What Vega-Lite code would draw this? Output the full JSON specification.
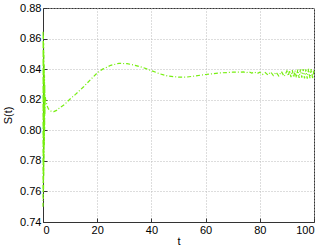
{
  "$schema": "https://vega.github.io/schema/vega-lite/v6.json",
  "autosize": "none",
  "padding": {"left": 43, "top": 8, "right": 13, "bottom": 29},
  "width": 271,
  "height": 214,
  "background": "white",
  "config": {
    "font": "Liberation Sans",
    "view": {"stroke": "#333333", "strokeWidth": 1}
  },
  "data": {"values": [
    {"t": 0, "S": 0.75}, {"t": 0.05, "S": 0.865}, {"t": 0.1, "S": 0.755}, {"t": 0.15, "S": 0.862},
    {"t": 0.2, "S": 0.76}, {"t": 0.25, "S": 0.857}, {"t": 0.3, "S": 0.77}, {"t": 0.35, "S": 0.851},
    {"t": 0.4, "S": 0.78}, {"t": 0.45, "S": 0.843}, {"t": 0.5, "S": 0.79}, {"t": 0.55, "S": 0.836},
    {"t": 0.6, "S": 0.80}, {"t": 0.65, "S": 0.83}, {"t": 0.7, "S": 0.81}, {"t": 0.8, "S": 0.822},
    {"t": 1, "S": 0.82}, {"t": 1.5, "S": 0.816}, {"t": 2, "S": 0.814}, {"t": 3, "S": 0.8125},
    {"t": 4, "S": 0.8122}, {"t": 5, "S": 0.813}, {"t": 6, "S": 0.8145}, {"t": 8, "S": 0.817},
    {"t": 10, "S": 0.8205}, {"t": 12, "S": 0.8235}, {"t": 15, "S": 0.8285}, {"t": 18, "S": 0.834},
    {"t": 20, "S": 0.8375}, {"t": 22, "S": 0.840}, {"t": 25, "S": 0.8425}, {"t": 28, "S": 0.8438},
    {"t": 31, "S": 0.8436}, {"t": 34, "S": 0.8425}, {"t": 37, "S": 0.841}, {"t": 40, "S": 0.839},
    {"t": 43, "S": 0.837}, {"t": 46, "S": 0.8355}, {"t": 50, "S": 0.8348}, {"t": 53, "S": 0.8348},
    {"t": 56, "S": 0.8355}, {"t": 60, "S": 0.8365}, {"t": 65, "S": 0.8375}, {"t": 70, "S": 0.838},
    {"t": 73, "S": 0.838}, {"t": 74, "S": 0.8382}, {"t": 75, "S": 0.8376}, {"t": 76, "S": 0.8383},
    {"t": 77, "S": 0.8374}, {"t": 78, "S": 0.8381}, {"t": 79, "S": 0.8371}, {"t": 80, "S": 0.838},
    {"t": 81, "S": 0.8365}, {"t": 82, "S": 0.8378}, {"t": 83, "S": 0.8362}, {"t": 84, "S": 0.8382},
    {"t": 85, "S": 0.8358}, {"t": 86, "S": 0.838}, {"t": 87, "S": 0.8355}, {"t": 88, "S": 0.8384},
    {"t": 89, "S": 0.8352}, {"t": 90, "S": 0.8388}, {"t": 90.5, "S": 0.8355}, {"t": 91, "S": 0.8392},
    {"t": 91.5, "S": 0.8348}, {"t": 92, "S": 0.8394}, {"t": 92.5, "S": 0.8346}, {"t": 93, "S": 0.8390},
    {"t": 93.5, "S": 0.8344}, {"t": 94, "S": 0.8397}, {"t": 94.5, "S": 0.8342}, {"t": 95, "S": 0.8399},
    {"t": 95.5, "S": 0.8345}, {"t": 96, "S": 0.8401}, {"t": 96.5, "S": 0.8340}, {"t": 97, "S": 0.8398},
    {"t": 97.5, "S": 0.8338}, {"t": 98, "S": 0.8402}, {"t": 98.5, "S": 0.8341}, {"t": 99, "S": 0.8400},
    {"t": 99.5, "S": 0.8337}, {"t": 100, "S": 0.8396}
  ]},
  "mark": {"type": "line", "color": "#77ee11", "strokeWidth": 1.2, "strokeDash": [4, 2, 1, 2]},
  "encoding": {
    "x": {
      "field": "t", "type": "quantitative",
      "scale": {"domain": [0, 100], "nice": false, "zero": false},
      "axis": {
        "title": "t", "values": [0, 20, 40, 60, 80, 100],
        "grid": true, "gridColor": "#bbbbbb", "gridDash": [1, 2],
        "domainColor": "#333333", "tickColor": "#333333", "tickSize": -4,
        "labelFontSize": 11, "labelColor": "#000000", "labelPadding": 6,
        "titleFontSize": 11, "titleFontWeight": "normal", "titleColor": "#000000", "titlePadding": 0
      }
    },
    "y": {
      "field": "S", "type": "quantitative",
      "scale": {"domain": [0.74, 0.88], "nice": false, "zero": false},
      "axis": {
        "title": "S(t)", "values": [0.74, 0.76, 0.78, 0.8, 0.82, 0.84, 0.86, 0.88],
        "grid": true, "gridColor": "#bbbbbb", "gridDash": [1, 2],
        "domainColor": "#333333", "tickColor": "#333333", "tickSize": -4,
        "labelFontSize": 11, "labelColor": "#000000", "labelPadding": 6,
        "titleFontSize": 11, "titleFontWeight": "normal", "titleColor": "#000000", "titlePadding": 6
      }
    }
  }
}
